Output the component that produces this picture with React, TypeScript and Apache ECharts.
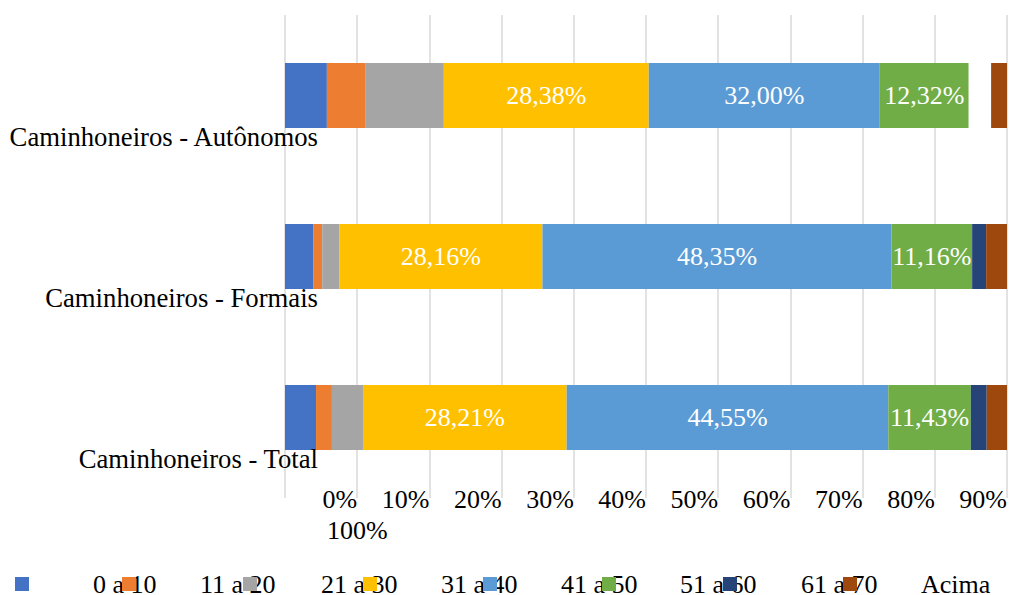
import React, { useEffect, useRef } from "react";
import * as echarts from "echarts";

// Categories (bottom to top, as ECharts draws a category y axis)
const categories = [
  "Caminhoneiros - Total",
  "Caminhoneiros - Formais",
  "Caminhoneiros - Autônomos",
];

const seriesNames = ["0 a 10", "11 a 20", "21 a 30", "31 a 40", "41 a 50", "51 a 60", "61 a 70", "Acima"];

// Values (%) per series, in category order [Total, Formais, Autônomos]
const s0a10 = [4.3, 3.9, 5.8];
const s11a20 = [2.2, 1.25, 5.3];
const s21a30 = [4.3, 2.35, 10.9];
const s31a40 = [28.21, 28.16, 28.38];
const s41a50 = [44.55, 48.35, 32.0];
const s51a60 = [11.43, 11.16, 12.32];
const s61a70 = [2.2, 1.94, 3.1];
const sAcima = [2.81, 2.89, 2.2];

const seriesValues = [s0a10, s11a20, s21a30, s31a40, s41a50, s51a60, s61a70, sAcima];
const labeledSeries = [3, 4, 5];

// x axis tick labels (value axis, %)
const xMin = 0;
const xMax = 100;
const xStep = 10;

const colors = ["#4472C4", "#ED7D31", "#A5A5A5", "#FFC000", "#5B9BD5", "#70AD47", "#264478", "#9E480E"];
const FONT = "Liberation Serif";
const legendLeft = [15, 122, 243, 363, 483, 602, 723, 843];

export default function App() {
  const ref = useRef<HTMLDivElement>(null);
  useEffect(() => {
    if (!ref.current) return;
    const chart = echarts.init(ref.current, undefined, { renderer: "svg" });
    const fmt = (v: number) => v.toFixed(2).replace(".", ",") + "%";
    const series = seriesNames.map((name, i) => ({
      name,
      type: "bar",
      stack: "total",
      barWidth: 65,
      xAxisIndex: 0,
      itemStyle: { color: colors[i] },
      data: seriesValues[i].map((v, j) =>
        i === 6 && j === 2 ? { value: v, itemStyle: { color: "#ffffff" } } : v
      ),
      label: labeledSeries.includes(i)
        ? {
            show: true,
            position: "inside",
            color: "#ffffff",
            fontFamily: FONT,
            fontSize: 26,
            formatter: (p: any) => fmt(p.value),
          }
        : { show: false },
    }));
    const legends = seriesNames.map((name, i) => ({
      data: [name],
      left: legendLeft[i],
      top: 571,
      padding: 0,
      itemWidth: 14,
      itemHeight: 14,
      icon: "rect",
      textStyle: {
        fontFamily: FONT,
        fontSize: 26,
        color: "#000",
        lineHeight: 26,
        padding: [0, 0, 0, 59],
      },
    }));
    chart.setOption({
      animation: false,
      textStyle: { fontFamily: FONT },
      grid: { left: 285, right: 5, top: 15, bottom: 97, containLabel: false },
      legend: legends,
      xAxis: [
        {
          type: "value",
          min: xMin,
          max: xMax,
          interval: xStep,
          axisLine: { show: false },
          axisTick: { show: false },
          axisLabel: { show: false },
          splitLine: { show: true, lineStyle: { color: "#d9d9d9", width: 1.5 } },
        },
        {
          type: "value",
          position: "bottom",
          min: xMin - xStep,
          max: xMax - xStep,
          interval: xStep,
          axisLine: { show: false },
          axisTick: { show: false },
          splitLine: { show: false },
          axisLabel: {
            show: true,
            align: "right",
            verticalAlign: "middle",
            margin: 1.5,
            fontFamily: FONT,
            fontSize: 26,
            color: "#000",
            showMinLabel: true,
            showMaxLabel: true,
            formatter: (v: number) => (v < 0 ? "" : `${v}%`),
          },
        },
      ],
      yAxis: {
        type: "category",
        data: categories,
        axisLine: { show: false },
        axisTick: { show: false },
        z: 10,
        axisLabel: {
          interval: 0,
          hideOverlap: false,
          align: "right",
          verticalAlign: "middle",
          margin: -33,
          lineHeight: 83,
          fontFamily: FONT,
          fontSize: 26.7,
          color: "#000",
          formatter: (v: string) => `\n${v}`,
        },
      },
      graphic: [
        {
          type: "text",
          x: 327,
          y: 530.5,
          style: {
            text: `${xMax}%`,
            fontFamily: FONT,
            fontSize: 26,
            fill: "#000",
            align: "left",
            verticalAlign: "middle",
          },
        },
      ],
      series,
    });
    return () => chart.dispose();
  }, []);
  return (
    <div
      ref={ref}
      style={{ position: "absolute", left: 0, top: 0, width: 1012, height: 595 }}
    />
  );
}
